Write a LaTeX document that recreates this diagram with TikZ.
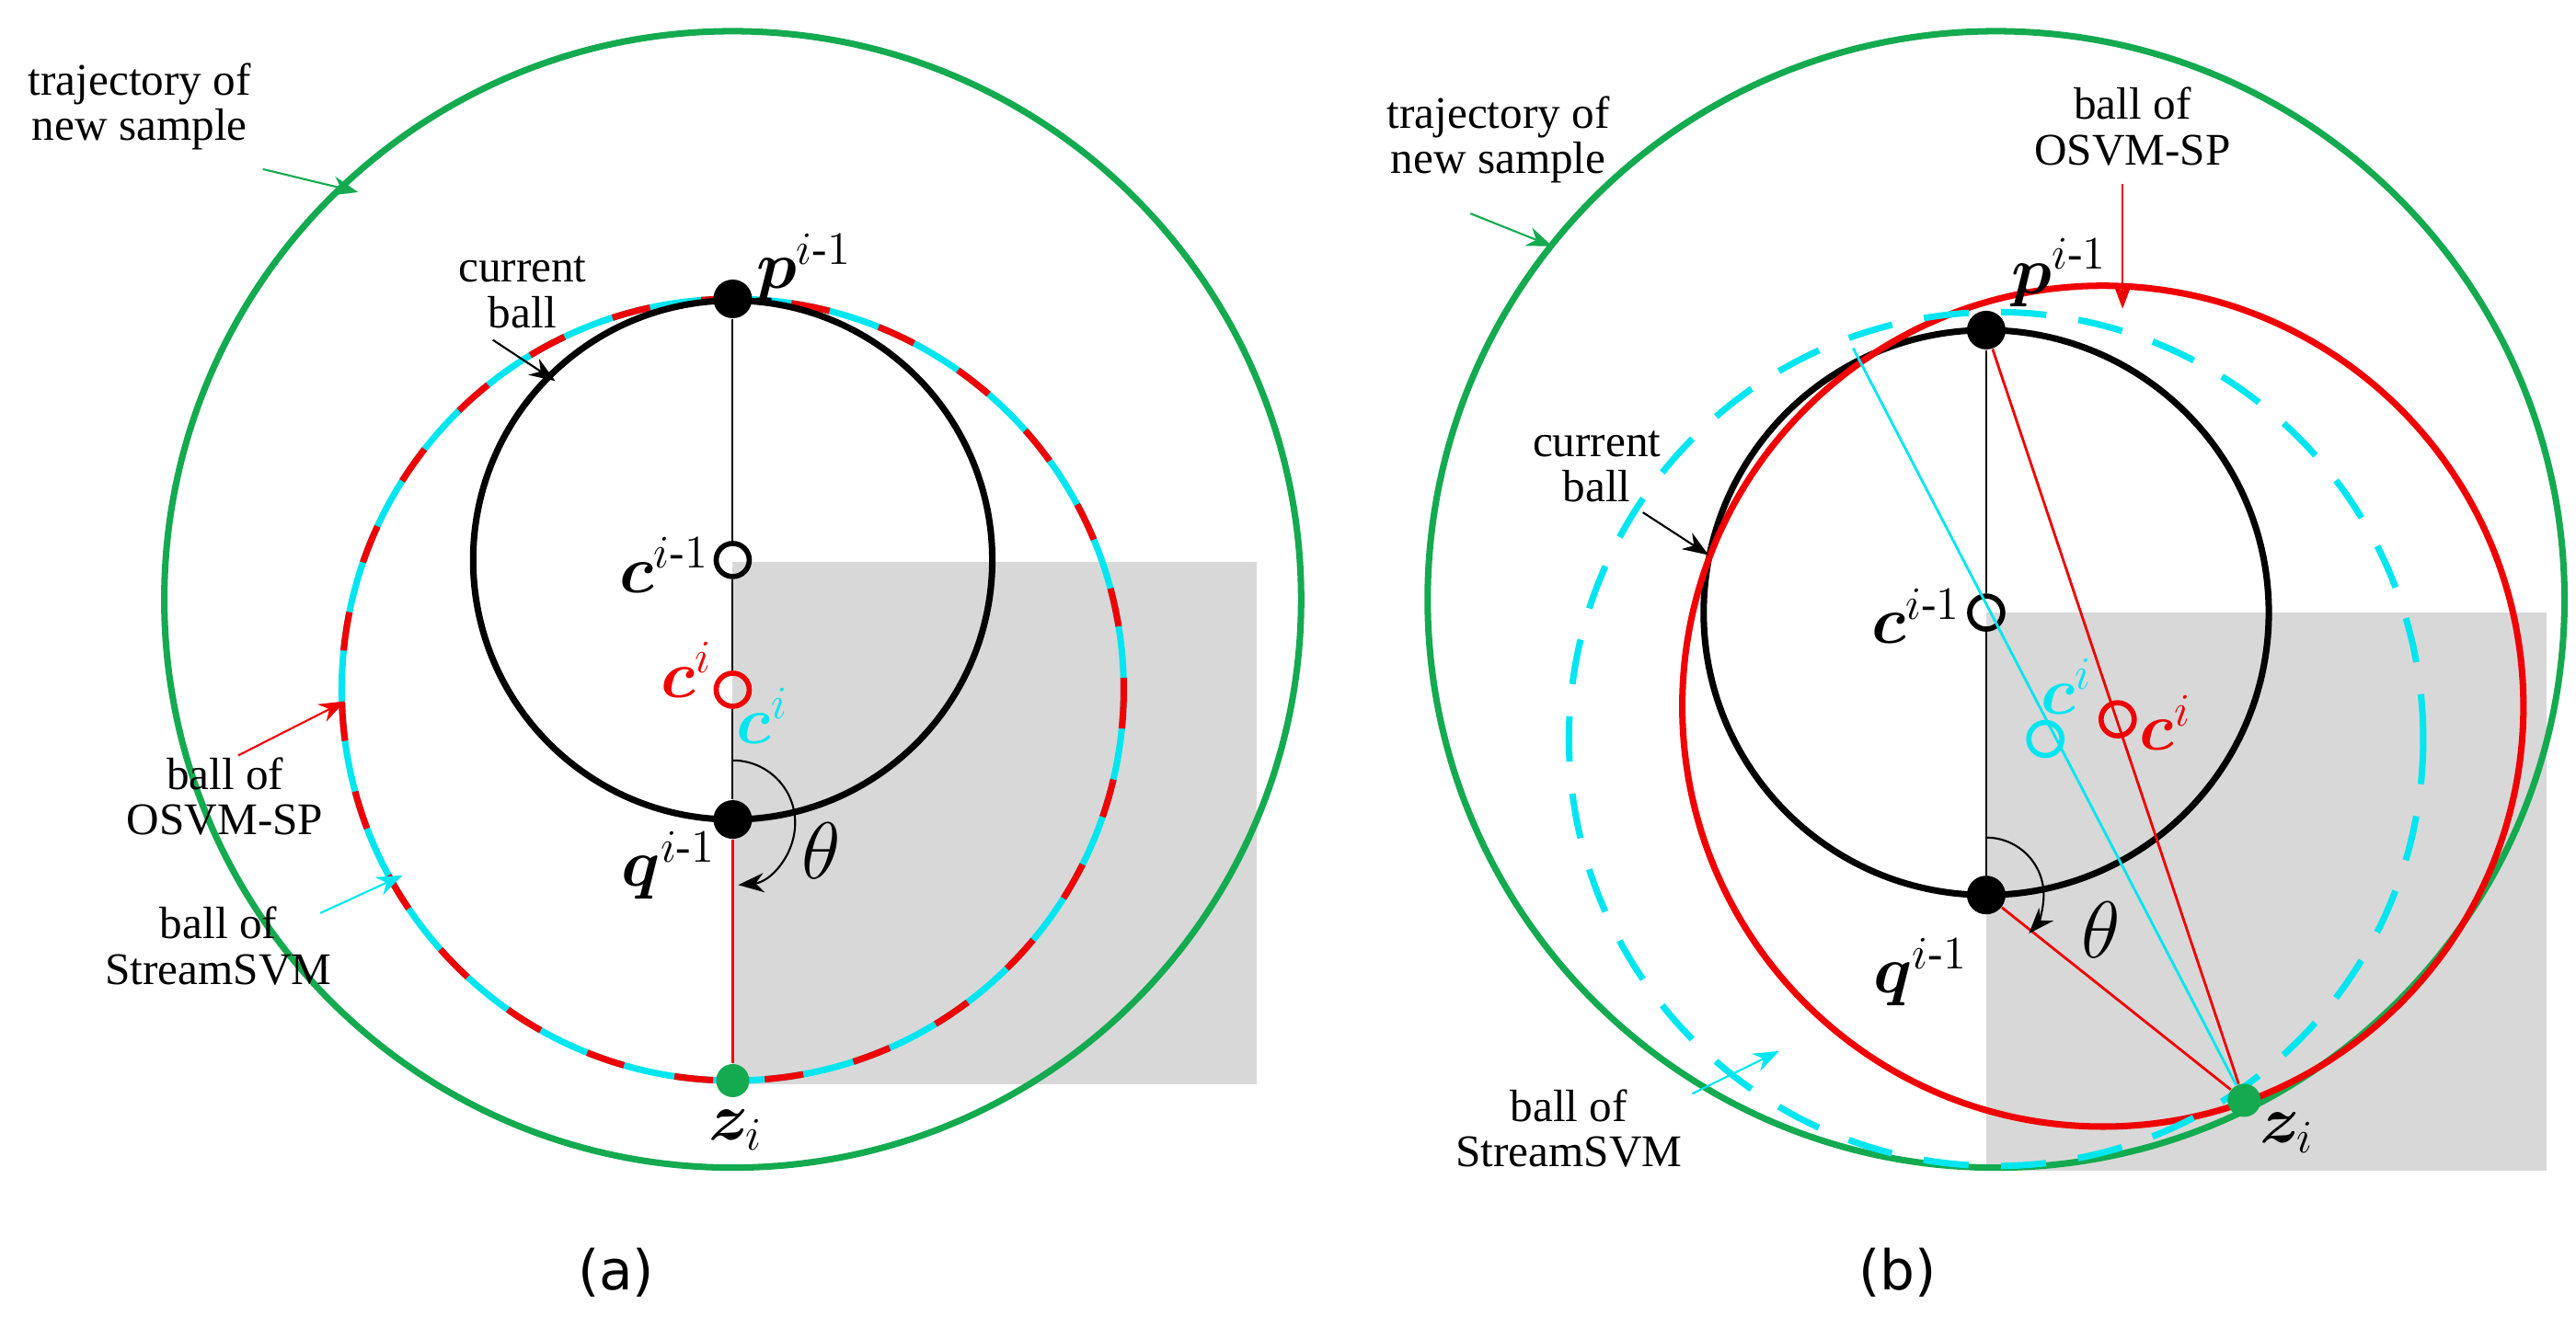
\documentclass[tikz,border=0pt]{standalone}
\usepackage{fontspec}
\setmainfont{Liberation Serif}
\newfontfamily\capfont{DejaVu Sans}
\usepackage{amsmath,bm}
\usetikzlibrary{arrows.meta}
\definecolor{gr}{RGB}{20,170,80}
\definecolor{cy}{RGB}{0,230,240}
\definecolor{rd}{RGB}{240,0,0}
\definecolor{gy}{RGB}{216,216,216}
\tikzset{
 dot/.style={circle,fill=black,inner sep=0pt,minimum size=0.42cm},
 odot/.style={circle,draw,line width=1.6pt,inner sep=0pt,minimum size=0.36cm},
 lbl/.style={font=\fontsize{14}{14}\selectfont,align=center,inner sep=1pt},
 mlbl/.style={font=\fontsize{20}{20}\selectfont,inner sep=1pt},
 tlbl/.style={font=\fontsize{26}{26}\selectfont,inner sep=1pt},
 arr/.style={-{Stealth[length=8pt,width=6pt]},line width=0.6pt},
 thick2/.style={line width=2pt}
}
\begin{document}
\begin{tikzpicture}[x=0.017857cm,y=-0.017857cm]
\useasboundingbox[fill=white] (0,0) rectangle (1568,808.6);
% ---------- panel (a)
\fill[gy] (446,342) rectangle (765,660);
\draw[gr,thick2] (446,365) circle (346);
\draw[cy,thick2] (446,420) circle (238);
\draw[rd,thick2,dash pattern=on 12pt off 16pt] (446,420) circle (238);
\draw[black,thick2] (446,341) circle (158);
\node[dot] (pa) at (446,182) {};
\node[odot] (ca) at (446,341) {};
\node[odot,rd] (cia) at (446,420) {};
\node[dot] (qa) at (446,499) {};
\node[dot,fill=gr,minimum size=0.36cm] (za) at (446,658) {};
\draw[line width=0.6pt] (pa) -- (ca) -- (cia) -- (qa);
\draw[rd,line width=0.8pt] (qa) -- (za);
\draw[arr] (446,463) arc[start angle=-90,end angle=85,radius=38];
\node[tlbl] at (500,518) {$\theta$};
\node[mlbl,anchor=west] at (458,163) {$\bm{p}^{i\text{-}1}$};
\node[mlbl,anchor=east] at (434,344) {$\bm{c}^{i\text{-}1}$};
\node[mlbl,anchor=east,rd] at (436,408) {$\bm{c}^{i}$};
\node[mlbl,anchor=west,cy] at (446,436) {$\bm{c}^{i}$};
\node[mlbl,anchor=east] at (438,527) {$\bm{q}^{i\text{-}1}$};
\node[mlbl] at (448,688) {$\bm{z}_{i}$};
\node[lbl] (ta) at (85,65) {trajectory of\\new sample};
\draw[arr,gr] (160,103) -- (218,117);
\node[lbl] (cba) at (318,178) {current\\ball};
\draw[arr] (300,207) -- (338,232);
\node[lbl] (oa) at (137,485) {ball of\\OSVM-SP};
\draw[arr,rd] (145,460) -- (210,427);
\node[lbl] (sa) at (133,576) {ball of\\StreamSVM};
\draw[arr,cy] (195,556) -- (245,533);
\node[font=\capfont\fontsize{17}{18}\selectfont] at (375,775) {(a)};
% ---------- panel (b)
\fill[gy] (1209,373) rectangle (1550,713);
\draw[gr,thick2] (1215,365) circle (346);
\draw[black,thick2] (1209,373) circle (172);
\draw[rd,thick2] (1280,430) circle (256);
\draw[cy,thick2,dash pattern=on 14pt off 10pt] (1215,450) circle (260);
\node[dot] (pb) at (1209,201) {};
\node[odot] (cb) at (1209,373) {};
\node[dot] (qb) at (1209,545) {};
\node[dot,fill=gr,minimum size=0.36cm] (zb) at (1366,670) {};
\node[odot,cy] (cib) at (1245,450) {};
\node[odot,rd] (cirb) at (1289,438) {};
\coordinate (tb) at (1128,212);
\draw[line width=0.6pt] (pb) -- (cb) -- (qb);
\draw[rd,line width=0.8pt] (pb) -- (zb);
\draw[rd,line width=0.8pt] (qb) -- (zb);
\draw[cy,line width=0.8pt] (tb) -- (zb);
\draw[arr] (1209,510) arc[start angle=-90,end angle=42,radius=35];
\node[tlbl] at (1279,566) {$\theta$};
\node[mlbl,anchor=west] at (1222,166) {$\bm{p}^{i\text{-}1}$};
\node[mlbl,anchor=east] at (1196,375) {$\bm{c}^{i\text{-}1}$};
\node[mlbl,anchor=west,cy] at (1240,418) {$\bm{c}^{i}$};
\node[mlbl,anchor=west,rd] at (1300,440) {$\bm{c}^{i}$};
\node[mlbl,anchor=east] at (1200,592) {$\bm{q}^{i\text{-}1}$};
\node[mlbl] at (1392,690) {$\bm{z}_{i}$};
\node[lbl] (tb2) at (912,85) {trajectory of\\new sample};
\draw[arr,gr] (895,130) -- (945,150);
\node[lbl] (ob) at (1298,77) {ball of\\OSVM-SP};
\draw[arr,rd] (1292,112) -- (1292,188);
\node[lbl] (cbb) at (972,284) {current\\ball};
\draw[arr] (1000,312) -- (1040,338);
\node[lbl] (sb) at (955,687) {ball of\\StreamSVM};
\draw[arr,cy] (1030,666) -- (1083,640);
\node[font=\capfont\fontsize{17}{18}\selectfont] at (1155,775) {(b)};
\end{tikzpicture}
\end{document}
